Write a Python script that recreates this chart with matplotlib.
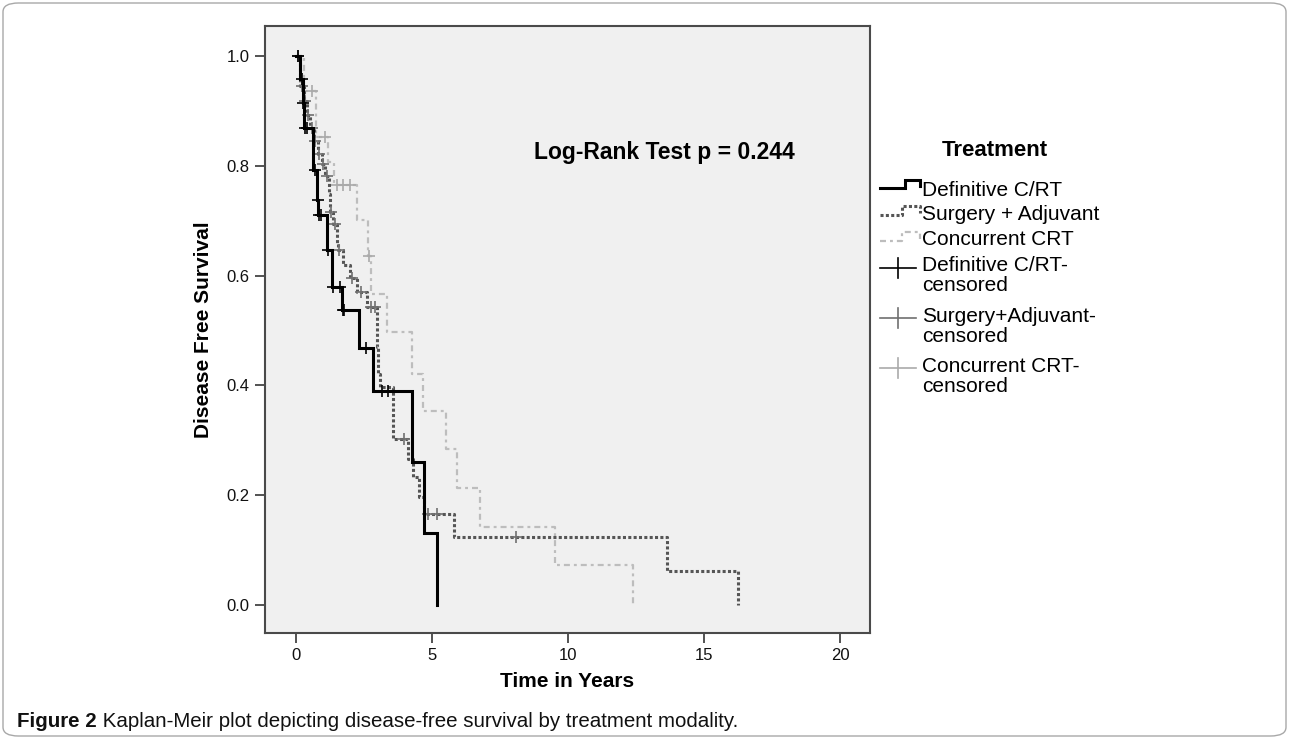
import numpy as np
import matplotlib
matplotlib.use("Agg")
import matplotlib.pyplot as plt
from matplotlib.lines import Line2D
from matplotlib.patches import FancyBboxPatch
from matplotlib import font_manager

# event times (years) and survival after each event
defin_t = [0.15, 0.24, 0.30, 0.64, 0.76, 0.82, 1.13, 1.31, 1.68, 2.32, 2.82, 4.28, 4.72, 5.17]
defin_s = [0.959, 0.914, 0.869, 0.792, 0.737, 0.710, 0.646, 0.579, 0.537, 0.468, 0.390, 0.261, 0.130, 0.0]
defin_cens = [0.09, 0.21, 0.27, 0.33, 0.42, 0.70, 0.80, 0.86, 0.92, 1.19, 1.37, 1.62, 1.72, 1.78, 2.57, 3.15, 3.39]

surg_t = [0.15, 0.28, 0.40, 0.52, 0.65, 0.80, 0.94, 1.08, 1.22, 1.26, 1.36, 1.50, 1.54, 1.74,
          1.99, 2.23, 2.60, 2.99, 3.02, 3.09, 3.55, 4.10, 4.30, 4.52, 4.72, 5.81, 13.64, 16.25]
surg_s = [0.945, 0.918, 0.893, 0.868, 0.845, 0.822, 0.804, 0.781, 0.748, 0.716, 0.694, 0.660, 0.647, 0.620,
          0.595, 0.570, 0.542, 0.470, 0.421, 0.397, 0.302, 0.265, 0.232, 0.196, 0.165, 0.124, 0.062, 0.0]
surg_cens = [0.09, 0.21, 0.33, 0.45, 0.58, 0.70, 0.86, 1.00, 1.13, 1.27, 1.43, 1.59, 2.05, 2.40,
             2.75, 2.90, 3.97, 4.87, 5.17, 8.09]

conc_t = [0.30, 0.72, 1.19, 1.40, 2.25, 2.64, 2.75, 3.36, 4.28, 4.68, 5.50, 5.91, 6.76, 9.52, 12.39]
conc_s = [0.937, 0.853, 0.807, 0.765, 0.701, 0.636, 0.567, 0.498, 0.421, 0.353, 0.283, 0.213, 0.141, 0.072, 0.0]
conc_cens = [0.58, 1.07, 1.50, 1.74, 1.99, 2.70]

x_ticks = [0, 5, 10, 15, 20]
y_ticks = [0.0, 0.2, 0.4, 0.6, 0.8, 1.0]

legend_title = "Treatment"
legend_labels = ["Definitive C/RT", "Surgery + Adjuvant", "Concurrent CRT",
                 "Definitive C/RT-\ncensored", "Surgery+Adjuvant-\ncensored", "Concurrent CRT-\ncensored"]
stat_text = "Log-Rank Test p = 0.244"
caption_bold = "Figure 2"
caption_rest = " Kaplan-Meir plot depicting disease-free survival by treatment modality."

BLACK = "#000000"
DARK = "#555555"
LIGHT = "#BDBDBD"
CENS_DARK = "#707070"
CENS_LIGHT = "#AAAAAA"

W, H = 1289, 739


def fx(px):
    return px / W


def fy(py):
    return 1 - py / H


def has_font(name):
    try:
        font_manager.findfont(name, fallback_to_default=False)
        return True
    except ValueError:
        return False


main_font = "Liberation Sans" if has_font("Liberation Sans") else "DejaVu Sans"
cap_font = "Liberation Sans Narrow" if has_font("Liberation Sans Narrow") else main_font
plt.rcParams["font.family"] = [main_font, "DejaVu Sans"]


def km_curve(times, surv):
    t = np.concatenate([[0.0], times])
    s = np.concatenate([[1.0], surv])
    return t, s


def surv_at(t, s, c):
    idx = np.searchsorted(t, c, side="right") - 1
    return s[idx]


fig = plt.figure(figsize=(W / 100, H / 100), dpi=100)

# outer rounded frame
fig.add_artist(FancyBboxPatch((fx(3), fy(736)), fx(1283), 733 / H,
                              boxstyle="round,pad=0,rounding_size=0.012",
                              transform=fig.transFigure, fill=False,
                              edgecolor="#A8A8A8", linewidth=1.0))

ax = fig.add_axes([fx(265), fy(633), fx(870) - fx(265), fy(26) - fy(633)])
ax.set_facecolor("#F0F0F0")

curves = [
    (defin_t, defin_s, defin_cens, dict(color=BLACK, lw=2.2, ls="-"), BLACK),
    (surg_t, surg_s, surg_cens, dict(color=DARK, lw=2.2, ls=(0, (1.0, 0.75))), CENS_DARK),
    (conc_t, conc_s, conc_cens, dict(color=LIGHT, lw=1.6, ls=(0, (2.7, 1.8, 1.3, 1.8))), CENS_LIGHT),
]

for times, surv, cens, style, ccol in reversed(curves):
    t, s = km_curve(times, surv)
    ax.step(t, s, where="post", solid_joinstyle="miter", **style)
    cy = surv_at(t, s, np.array(cens))
    ax.plot(cens, cy, ls="none", marker="+", ms=8.5, mew=1.2, color=ccol)

ax.set_xlim(-1.14, 21.1)
ax.set_ylim(-0.0514, 1.0547)
ax.set_xticks(x_ticks)
ax.set_yticks(y_ticks)
ax.set_yticklabels([f"{v:.1f}" for v in y_ticks])
ax.tick_params(direction="out", length=7, width=1.3, color="#444444",
               labelsize=12, pad=4, labelcolor="#111111")
for sp in ax.spines.values():
    sp.set_color("#4A4A4A")
    sp.set_linewidth(1.5)

ax.set_xlabel("Time in Years", fontsize=15, fontweight="bold", labelpad=6)
ax.set_ylabel("Disease Free Survival", fontsize=15, fontweight="bold", labelpad=10)

ax.text(0.66, 0.792, stat_text, transform=ax.transAxes, fontsize=16.5,
        fontweight="bold", ha="center", va="center")

# legend drawn beside the axes
fig.text(fx(995), fy(151), legend_title, fontsize=16, fontweight="bold",
         ha="center", va="center")

sx0, sx1 = 880, 920
step_samples = [
    (BLACK, 2.2, "-", 180, 188, 905, 196),
    (DARK, 2.2, (0, (1.0, 0.75)), 206, 215, 902, 220),
    (LIGHT, 1.6, (0, (2.7, 1.8, 1.3, 1.8)), 232, 241, 902, 245),
]
for (col, lw, ls, yhi, ylo, xmid, base), lab in zip(step_samples, legend_labels[:3]):
    xs = [fx(sx0), fx(xmid), fx(xmid), fx(sx1), fx(sx1)]
    ys = [fy(ylo), fy(ylo), fy(yhi), fy(yhi), fy(ylo - 2)]
    fig.add_artist(Line2D(xs, ys, color=col, lw=lw, ls=ls, transform=fig.transFigure,
                          solid_joinstyle="miter"))
    fig.text(fx(922), fy(base), lab, fontsize=15, ha="left", va="baseline")

cens_samples = [(BLACK, 268, 271), (CENS_DARK, 318, 322), (CENS_LIGHT, 368, 372)]
for (col, yline, base), lab in zip(cens_samples, legend_labels[3:]):
    fig.add_artist(Line2D([fx(sx0), fx(916)], [fy(yline), fy(yline)], color=col, lw=1.2,
                          transform=fig.transFigure))
    fig.add_artist(Line2D([fx(898), fx(898)], [fy(yline - 10), fy(yline + 10)], color=col,
                          lw=1.2, transform=fig.transFigure))
    first, second = lab.split("\n")
    fig.text(fx(922), fy(base), first, fontsize=15, ha="left", va="baseline")
    fig.text(fx(922), fy(base + 20), second, fontsize=15, ha="left", va="baseline")

# caption
t1 = fig.text(fx(17), fy(727), caption_bold, fontsize=14.8, fontweight="bold",
              family=[cap_font, "DejaVu Sans"], ha="left", va="baseline", color="#111111")
fig.canvas.draw()
bb = t1.get_window_extent(renderer=fig.canvas.get_renderer())
fig.text(bb.x1 / W, fy(727), caption_rest, fontsize=14.8,
         family=[cap_font, "DejaVu Sans"], ha="left", va="baseline", color="#111111")

fig.savefig("out.png", dpi=100)
